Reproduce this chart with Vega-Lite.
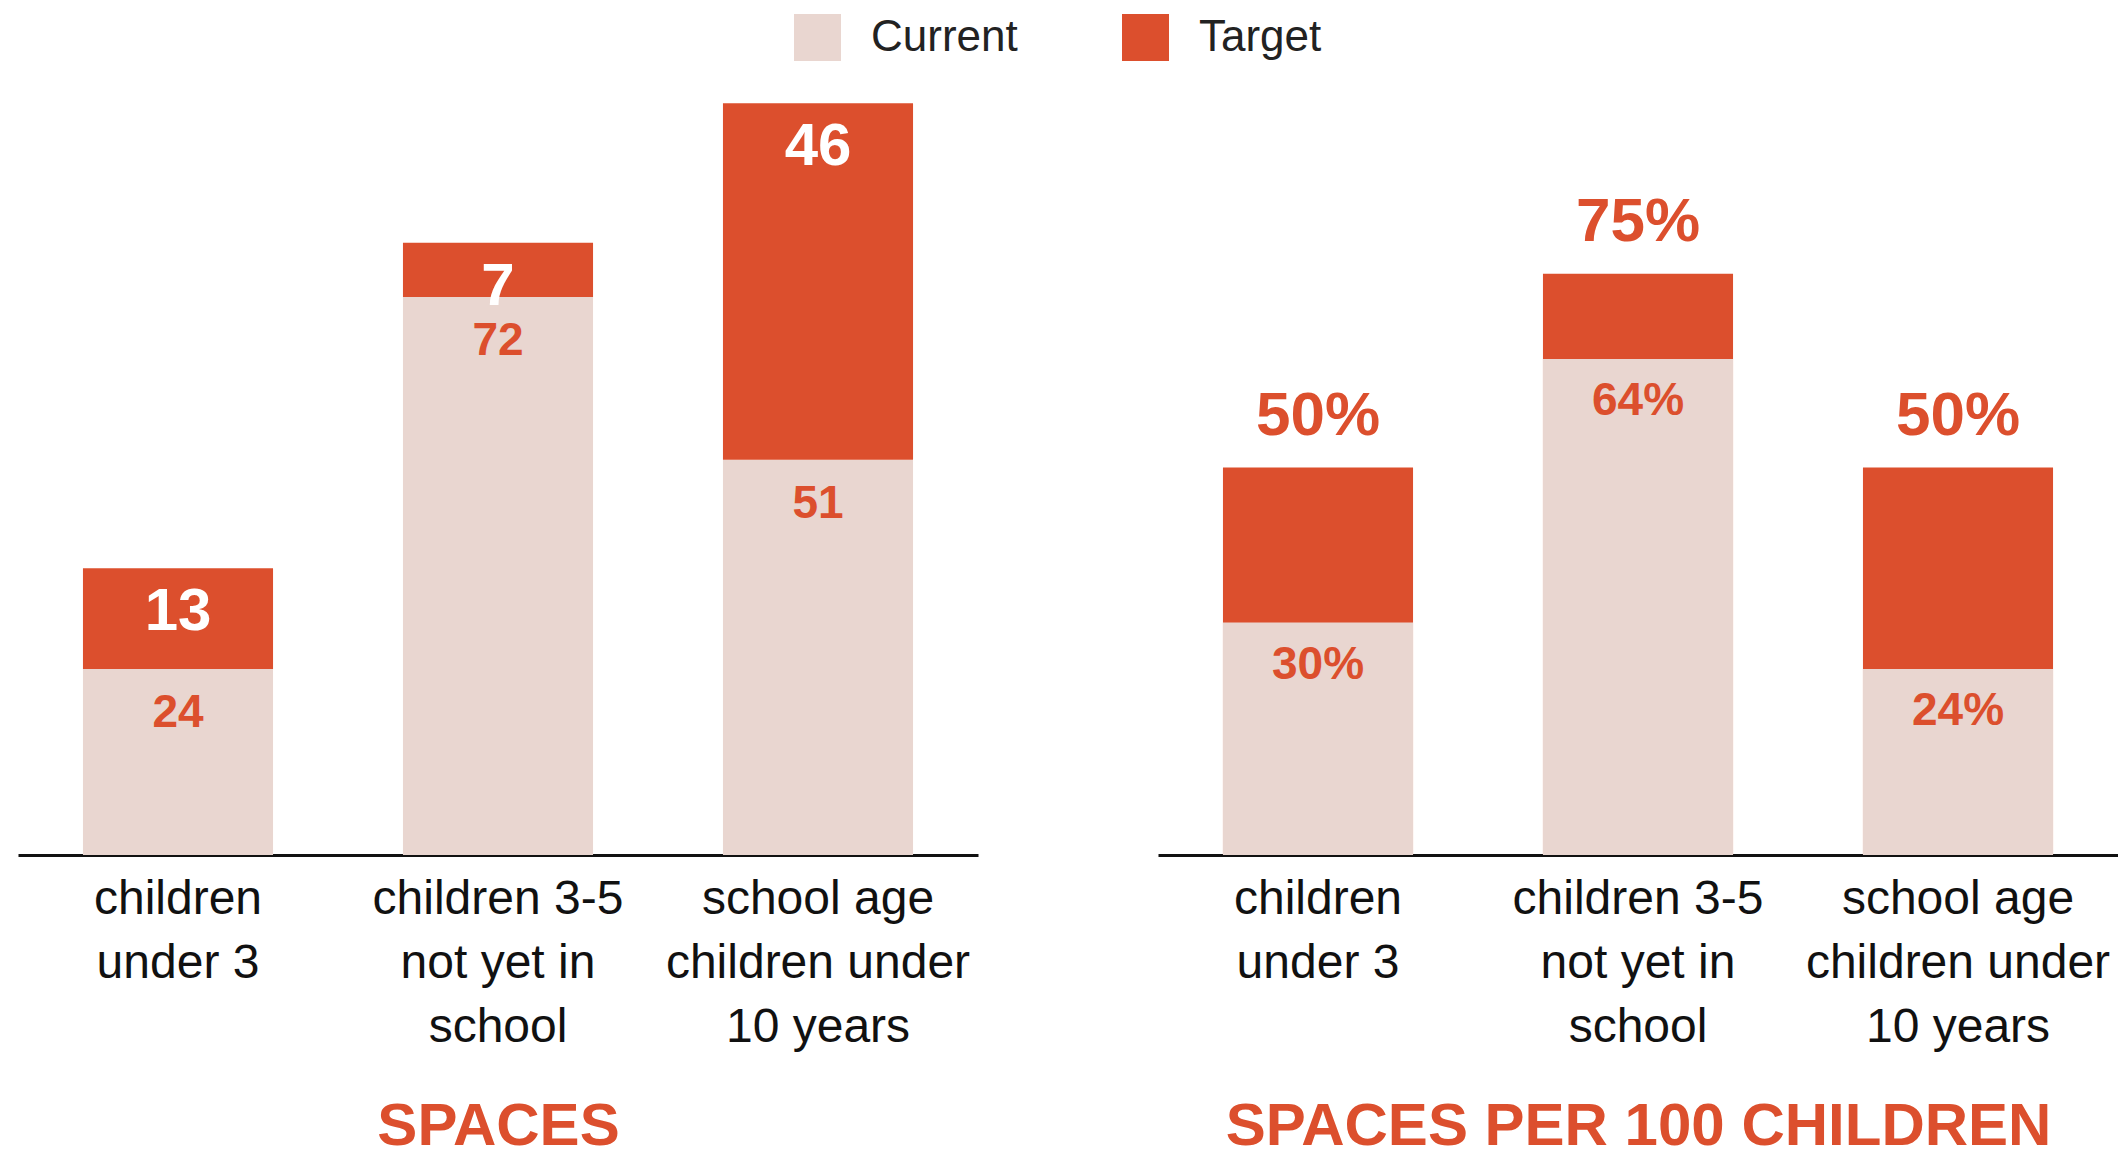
{
  "$schema": "https://vega.github.io/schema/vega-lite/v6.json",
  "background": "white",
  "padding": {"left": 18, "top": 14, "right": 0, "bottom": 20},
  "bounds": "flush",
  "spacing": 180,
  "datasets": {
    "spaces": [
      {"category": "children under 3", "series": "Current", "value": 24, "label": "24"},
      {"category": "children under 3", "series": "Target", "value": 13, "label": "13"},
      {"category": "children 3-5 not yet in school", "series": "Current", "value": 72, "label": "72"},
      {"category": "children 3-5 not yet in school", "series": "Target", "value": 7, "label": "7"},
      {"category": "school age children under 10 years", "series": "Current", "value": 51, "label": "51"},
      {"category": "school age children under 10 years", "series": "Target", "value": 46, "label": "46"}
    ],
    "per100": [
      {"category": "children under 3", "series": "Current", "value": 30, "label": "30%"},
      {"category": "children under 3", "series": "Target", "value": 50, "label": "50%"},
      {"category": "children 3-5 not yet in school", "series": "Current", "value": 64, "label": "64%"},
      {"category": "children 3-5 not yet in school", "series": "Target", "value": 75, "label": "75%"},
      {"category": "school age children under 10 years", "series": "Current", "value": 24, "label": "24%"},
      {"category": "school age children under 10 years", "series": "Target", "value": 50, "label": "50%"}
    ]
  },
  "config": {
    "view": {"stroke": null},
    "axisX": {
      "domainColor": "#111111",
      "domainWidth": 3,
      "ticks": false,
      "grid": false,
      "labelAngle": 0,
      "labelFont": "Liberation Sans",
      "labelFontSize": 48,
      "labelColor": "#111111",
      "labelLineHeight": 64,
      "labelPadding": 20,
      "labelLimit": 0,
      "labelOverlap": false,
      "titleFont": "Liberation Sans",
      "titleFontSize": 60,
      "titleFontWeight": "bold",
      "titleColor": "#DC4F2D",
      "titlePadding": 46,
      "labelExpr": "datum.value == 'children under 3' ? ['children', 'under 3'] : datum.value == 'children 3-5 not yet in school' ? ['children 3-5', 'not yet in', 'school'] : ['school age', 'children under', '10 years']"
    }
  },
  "resolve": {"scale": {"color": "shared"}},
  "hconcat": [
    {
      "width": 960,
      "height": 775,
      "data": {"name": "spaces"},
      "encoding": {
        "x": {
          "field": "category",
          "type": "nominal",
          "sort": null,
          "scale": {"paddingInner": 0.406, "paddingOuter": 0.203},
          "axis": {"title": "SPACES"}
        },
        "y": {
          "field": "value",
          "type": "quantitative",
          "stack": "zero",
          "scale": {"domain": [0, 100]},
          "axis": null
        },
        "order": {"field": "series", "sort": "ascending"}
      },
      "layer": [
        {
          "mark": {"type": "bar"},
          "encoding": {
            "color": {
              "field": "series",
              "type": "nominal",
              "scale": {"domain": ["Current", "Target"], "range": ["#E9D6D0", "#DC4F2D"]},
              "legend": {
                "title": null,
                "orient": "none",
                "legendX": 776,
                "legendY": -66,
                "direction": "horizontal",
                "symbolType": "square",
                "symbolSize": 2209,
                "symbolStrokeWidth": 0,
                "labelFont": "Liberation Sans",
                "labelFontSize": 44,
                "labelColor": "#222222",
                "labelOffset": 30,
                "columnPadding": 104
              }
            }
          }
        },
        {
          "mark": {"type": "text", "baseline": "middle", "align": "center", "dy": 44, "font": "Liberation Sans", "fontWeight": "bold"},
          "encoding": {
            "detail": {"field": "series"},
            "text": {"field": "label"},
            "color": {"condition": {"test": "datum.series == 'Target'", "value": "white"}, "value": "#DC4F2D"},
            "size": {"condition": {"test": "datum.series == 'Target'", "value": 60}, "value": 46}
          }
        }
      ]
    },
    {
      "width": 960,
      "height": 775,
      "data": {"name": "per100"},
      "encoding": {
        "x": {
          "field": "category",
          "type": "nominal",
          "sort": null,
          "scale": {"paddingInner": 0.406, "paddingOuter": 0.203},
          "axis": {"title": "SPACES PER 100 CHILDREN"}
        },
        "y": {
          "field": "value",
          "type": "quantitative",
          "stack": null,
          "scale": {"domain": [0, 100]},
          "axis": null
        }
      },
      "layer": [
        {
          "transform": [{"filter": "datum.series == 'Target'"}],
          "mark": {"type": "bar"},
          "encoding": {
            "color": {
              "field": "series",
              "type": "nominal",
              "scale": {"domain": ["Current", "Target"], "range": ["#E9D6D0", "#DC4F2D"]},
              "legend": null
            }
          }
        },
        {
          "transform": [{"filter": "datum.series == 'Current'"}],
          "mark": {"type": "bar"},
          "encoding": {
            "color": {
              "field": "series",
              "type": "nominal",
              "scale": {"domain": ["Current", "Target"], "range": ["#E9D6D0", "#DC4F2D"]},
              "legend": null
            }
          }
        },
        {
          "transform": [{"filter": "datum.series == 'Target'"}],
          "mark": {"type": "text", "baseline": "middle", "align": "center", "dy": -52, "fontSize": 62, "font": "Liberation Sans", "fontWeight": "bold", "color": "#DC4F2D"},
          "encoding": {"text": {"field": "label"}}
        },
        {
          "transform": [{"filter": "datum.series == 'Current'"}],
          "mark": {"type": "text", "baseline": "middle", "align": "center", "dy": 42, "fontSize": 46, "font": "Liberation Sans", "fontWeight": "bold", "color": "#DC4F2D"},
          "encoding": {"text": {"field": "label"}}
        }
      ]
    }
  ]
}
